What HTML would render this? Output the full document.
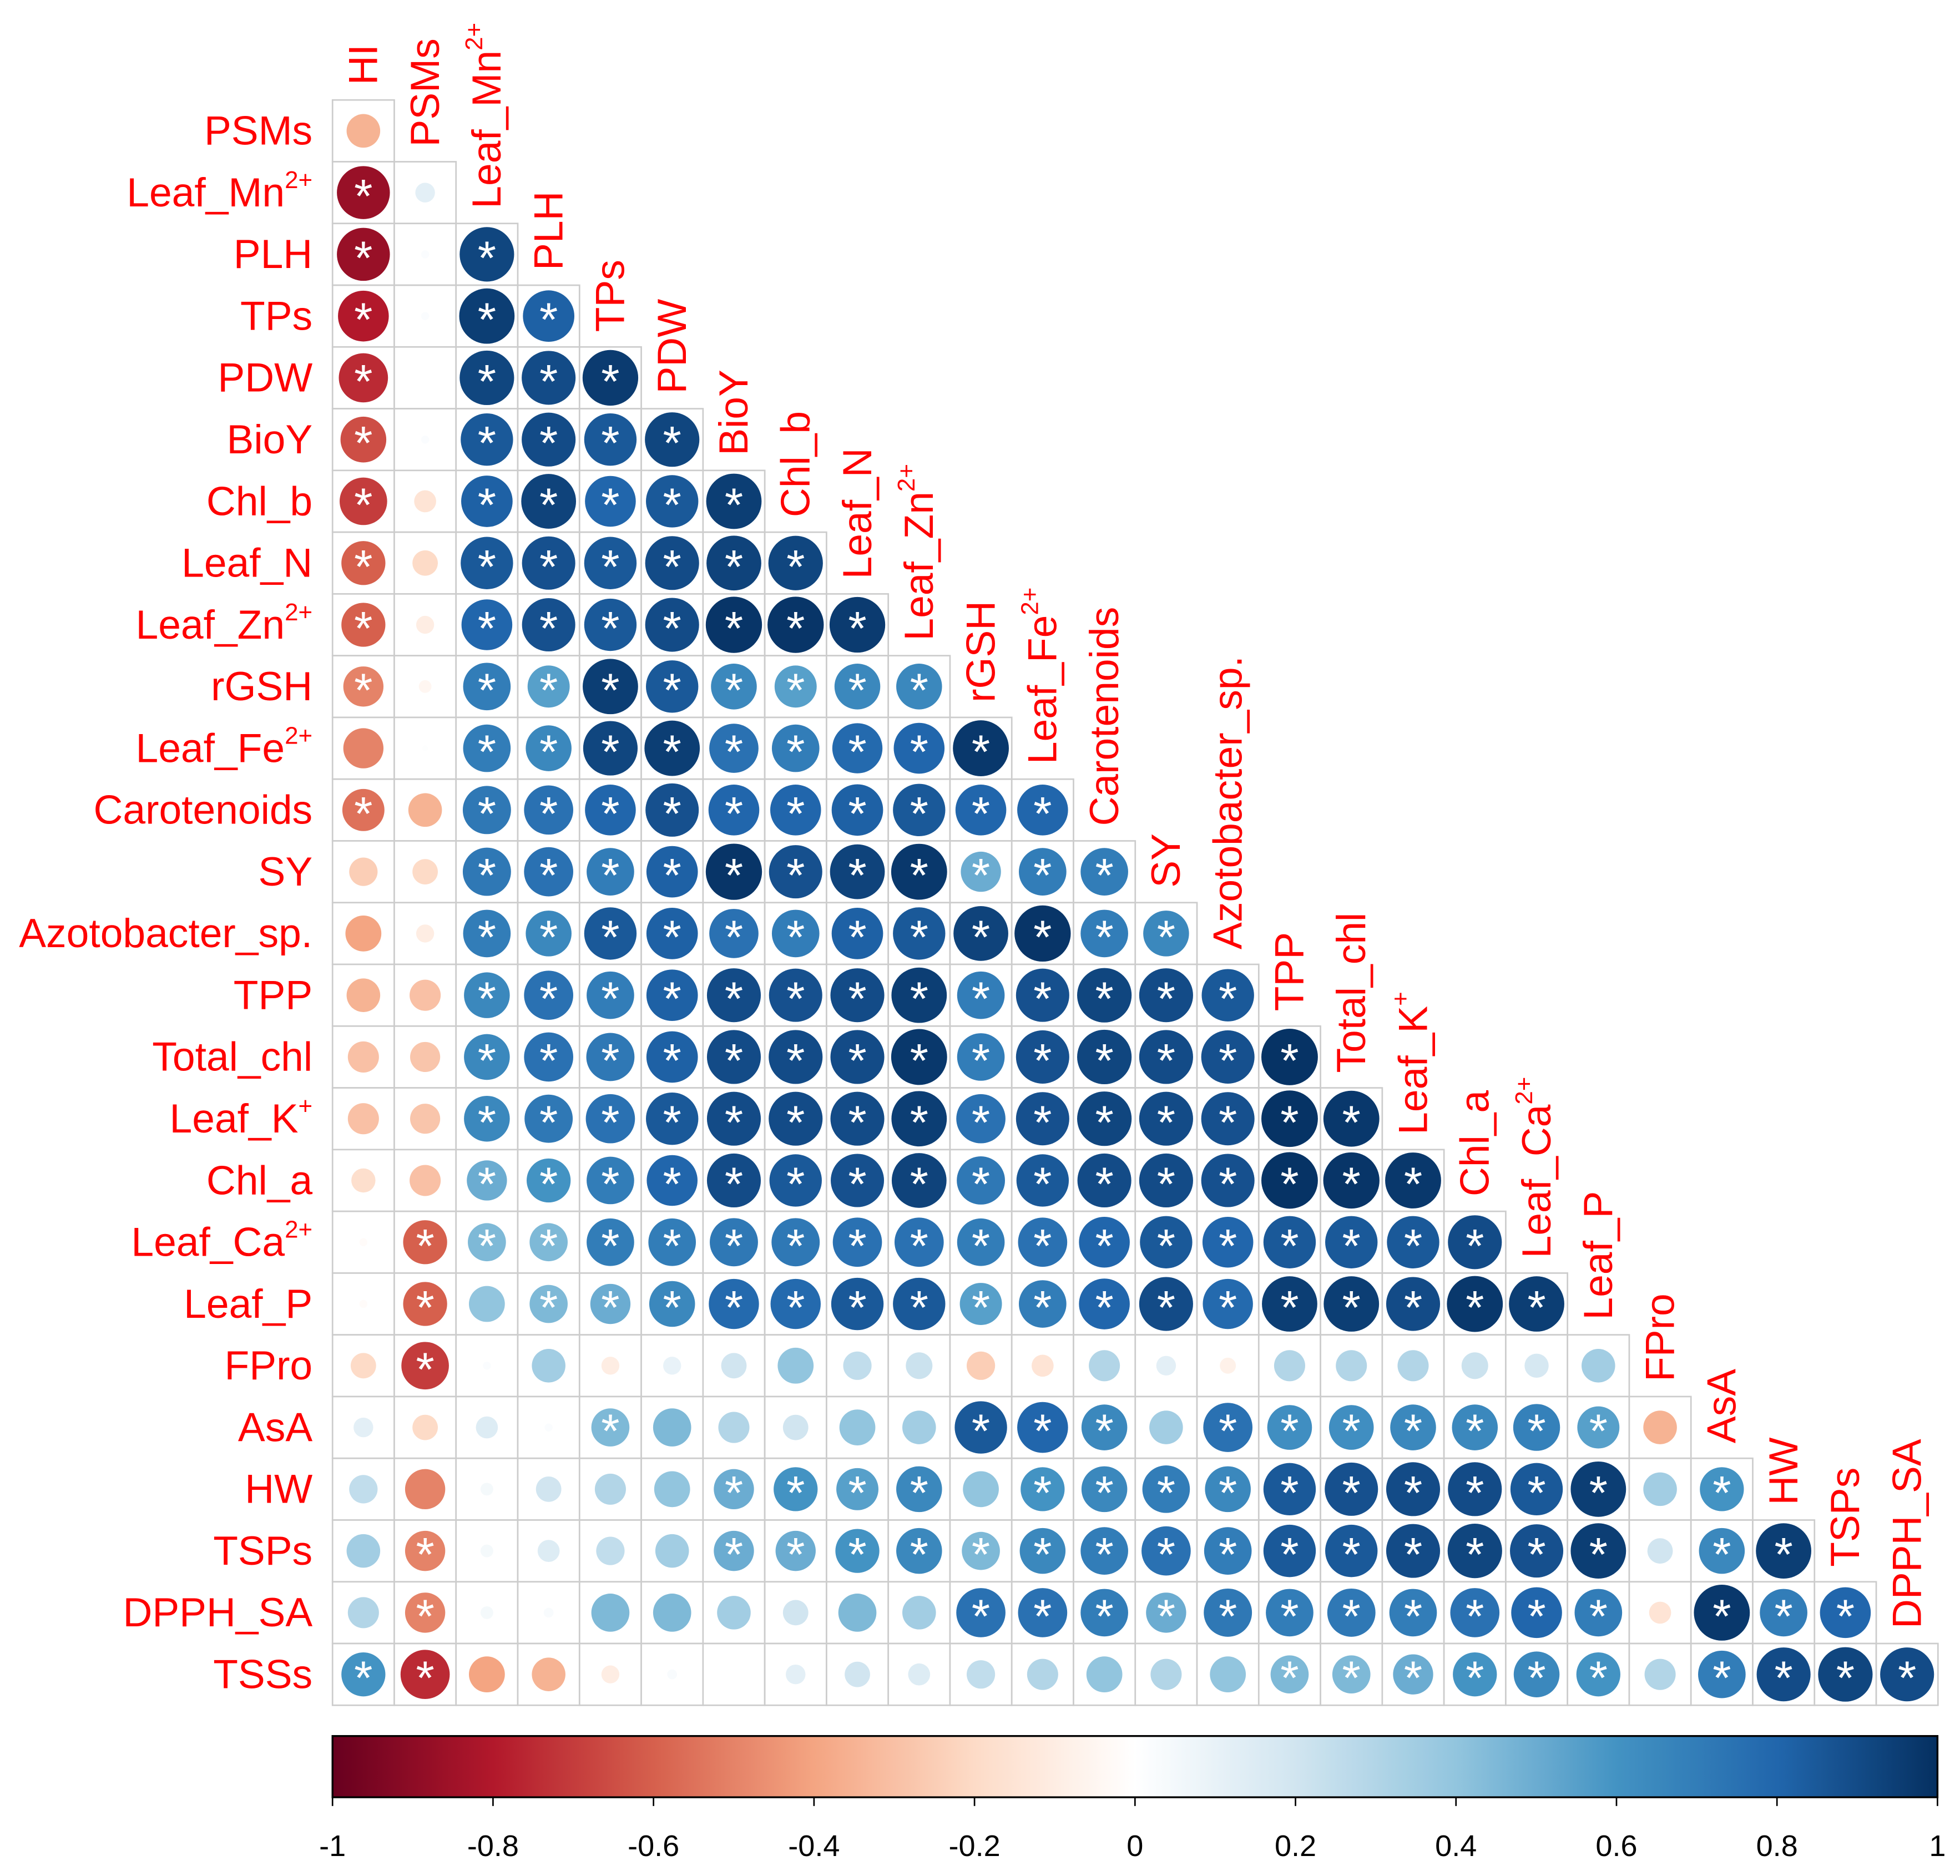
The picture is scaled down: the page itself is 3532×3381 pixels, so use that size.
<!DOCTYPE html>
<html>
<head>
<meta charset="utf-8">
<style>
html,body{margin:0;padding:0;background:#fff;}
svg{display:block;}
</style>
</head>
<body>
<svg id="chart" width="3532" height="3381" viewBox="0 0 1568 1501" xmlns="http://www.w3.org/2000/svg" font-family="Liberation Sans, Arial, sans-serif">
<rect width="1568" height="1501" fill="#fff"/>
<g id="cells"></g>
<g id="rowlabels"></g>
<g id="collabels"></g>
<g id="colorbar"></g>
</svg>
<script>
const names = ["HI","PSMs","Leaf_Mn","PLH","TPs","PDW","BioY","Chl_b","Leaf_N","Leaf_Zn","rGSH","Leaf_Fe","Carotenoids","SY","Azotobacter_sp.","TPP","Total_chl","Leaf_K","Chl_a","Leaf_Ca","Leaf_P","FPro","AsA","HW","TSPs","DPPH_SA","TSSs"];
const sups = {"Leaf_Mn":"2+","Leaf_Zn":"2+","Leaf_Fe":"2+","Leaf_K":"+","Leaf_Ca":"2+"};
const colNames = names.slice(0,26);
const rowNames = names.slice(1,27);
const values = [
[-.35],
[-.87,.12],
[-.87,.02,.92],
[-.8,.02,.95,.82],
[-.75,0,.92,.9,.96],
[-.65,.02,.85,.9,.85,.92],
[-.7,-.15,.82,.93,.8,.85,.95],
[-.6,-.2,.85,.88,.85,.9,.93,.92],
[-.6,-.1,.8,.88,.85,.9,.98,.98,.96],
[-.5,-.05,.7,.55,.95,.85,.65,.55,.65,.65],
[-.5,.01,.7,.65,.92,.95,.75,.7,.78,.8,.97],
[-.55,-.35,.72,.75,.8,.88,.8,.8,.82,.85,.8,.8],
[-.25,-.2,.72,.75,.7,.82,.98,.88,.93,.97,.5,.7,.7],
[-.4,-.1,.7,.65,.85,.82,.75,.7,.82,.85,.93,.98,.7,.65],
[-.35,-.3,.65,.75,.7,.82,.9,.88,.9,.95,.7,.88,.92,.9,.85],
[-.3,-.28,.65,.75,.72,.82,.9,.9,.9,.97,.7,.88,.92,.9,.88,.99],
[-.3,-.28,.65,.72,.75,.85,.9,.9,.9,.95,.75,.88,.92,.9,.88,.99,.97],
[-.18,-.3,.5,.6,.7,.8,.9,.85,.88,.93,.72,.85,.9,.9,.88,.99,.98,.97],
[-.02,-.6,.45,.45,.7,.7,.72,.72,.75,.75,.7,.75,.8,.85,.8,.85,.85,.85,.9],
[-.02,-.6,.4,.45,.5,.65,.78,.78,.85,.85,.55,.7,.8,.9,.78,.95,.95,.9,.97,.95],
[-.2,-.7,.02,.35,-.1,.1,.2,.4,.25,.22,-.25,-.15,.3,.12,-.08,.3,.3,.3,.22,.18,.35],
[.12,-.2,.15,.02,.45,.45,.3,.2,.4,.35,.85,.8,.65,.35,.75,.62,.62,.65,.65,.68,.55,-.35],
[.25,-.5,.05,.2,.3,.4,.5,.6,.55,.65,.4,.6,.65,.7,.65,.85,.88,.9,.9,.85,.95,.35,.6],
[.35,-.5,.05,.15,.25,.35,.5,.5,.6,.65,.45,.65,.7,.75,.7,.85,.85,.9,.92,.88,.95,.2,.65,.95],
[.3,-.5,.05,.03,.45,.45,.35,.2,.45,.35,.75,.75,.7,.5,.72,.7,.72,.7,.75,.8,.7,-.15,.97,.7,.8],
[.6,-.75,-.4,-.35,-.1,.03,0,.12,.2,.15,.25,.3,.4,.3,.4,.45,.45,.5,.6,.65,.6,.3,.7,.9,.92,.9]
];
const sig = [
"0","10","101","1011","10111","101111","1011111","10111111","101111111","1011111111",
"00111111111","101111111111","0011111111111","00111111111111","001111111111111",
"0011111111111111","00111111111111111","001111111111111111","0111111111111111111",
"01011111111111111111","010000000000000000000","0000100000111011111110",
"00000011110111111111101","010000111111111111111011",
"0100000000111111111110111","11000000000000011111101111"
];
const ticks = [-1,-0.8,-0.6,-0.4,-0.2,0,0.2,0.4,0.6,0.8,1];
const tickLabels = ["-1","-0.8","-0.6","-0.4","-0.2","0","0.2","0.4","0.6","0.8","1"];

const NS="http://www.w3.org/2000/svg";
const X0=266, Y0=80, C=49.4, FS=32.5;
const stops=["#67001F","#B2182B","#D6604D","#F4A582","#FDDBC7","#FFFFFF","#D1E5F0","#92C5DE","#4393C3","#2166AC","#053061"];
function hex2rgb(h){return [1,3,5].map(i=>parseInt(h.substr(i,2),16));}
function color(v){
  let t=(v+1)/2*10; if(t<0)t=0; if(t>10)t=10;
  let i=Math.min(9,Math.floor(t)), f=t-i;
  const a=hex2rgb(stops[i]), b=hex2rgb(stops[i+1]);
  return "rgb("+a.map((x,k)=>Math.round(x+(b[k]-x)*f)).join(",")+")";
}
function xOf(j){return X0+j*C;}
function yOf(i){return Y0+i*C;}
function mk(tag,attrs,parent){const e=document.createElementNS(NS,tag);for(const k in attrs)e.setAttribute(k,attrs[k]);parent.appendChild(e);return e;}
function labelText(el,name,size){
  el.textContent="";
  const t=document.createElementNS(NS,"tspan");t.textContent=name;el.appendChild(t);
  if(sups[name]){const s=document.createElementNS(NS,"tspan");s.setAttribute("font-size",size*0.6);s.setAttribute("dy",-size*0.45);s.textContent=sups[name];el.appendChild(s);}
}
const cells=document.getElementById("cells");
values.forEach((row,i)=>{
  row.forEach((v,j)=>{
    const g=mk("g",{},cells);
    
    
    mk("rect",{x:xOf(j),y:yOf(i),width:C,height:C,fill:"#fff",stroke:"#cccccc","stroke-width":1.2},g);
    const r=0.46*C*Math.sqrt(Math.abs(v));
    if(r>0.3) mk("circle",{cx:xOf(j)+C/2,cy:yOf(i)+C/2,r:r,fill:color(v)},g);
    if(sig[i] && sig[i][j]==="1"){
      const s=mk("text",{x:xOf(j)+C/2,y:yOf(i)+C/2+16,"text-anchor":"middle","font-size":38,fill:"#fff"},g);
      s.textContent="*";
    }
  });
});
const rl=document.getElementById("rowlabels");
rowNames.forEach((n,i)=>{
  const t=mk("text",{x:250,y:yOf(i)+C/2+11,"text-anchor":"end","font-size":FS,fill:"#FF0000"},rl);
  
  
  labelText(t,n,FS);
});
const cl=document.getElementById("collabels");
colNames.forEach((n,j)=>{
  const x=xOf(j)+C/2+11, y=yOf(j)-12;
  const t=mk("text",{x:x,y:y,transform:"rotate(-90 "+x+" "+y+")","font-size":FS,fill:"#FF0000"},cl);
  
  
  labelText(t,n,FS);
});
const cb=document.getElementById("colorbar");
const BX0=266, BX1=1550, BY=1389, BH=49;
const defs=mk("defs",{},cb);
const lg=mk("linearGradient",{id:"grad",x1:0,x2:1,y1:0,y2:0},defs);
for(let k=0;k<=100;k++){const v=-1+k/50;mk("stop",{offset:(k)+"%","stop-color":color(v)},lg);}
const bar=mk("rect",{x:BX0,y:BY,width:BX1-BX0,height:BH,fill:"url(#grad)",stroke:"#000","stroke-width":1.5},cb);


function bx(v){return BX0+(v+1)/2*(BX1-BX0);}
ticks.forEach((v,k)=>{
  mk("line",{x1:bx(v),x2:bx(v),y1:BY+BH,y2:BY+BH+7,stroke:"#000","stroke-width":1.2},cb);
  const t=mk("text",{x:bx(v),y:1485,"text-anchor":"middle","font-size":24,fill:"#000"},cb);
  
  
  t.textContent=tickLabels[k];
});
</script>
</body>
</html>
